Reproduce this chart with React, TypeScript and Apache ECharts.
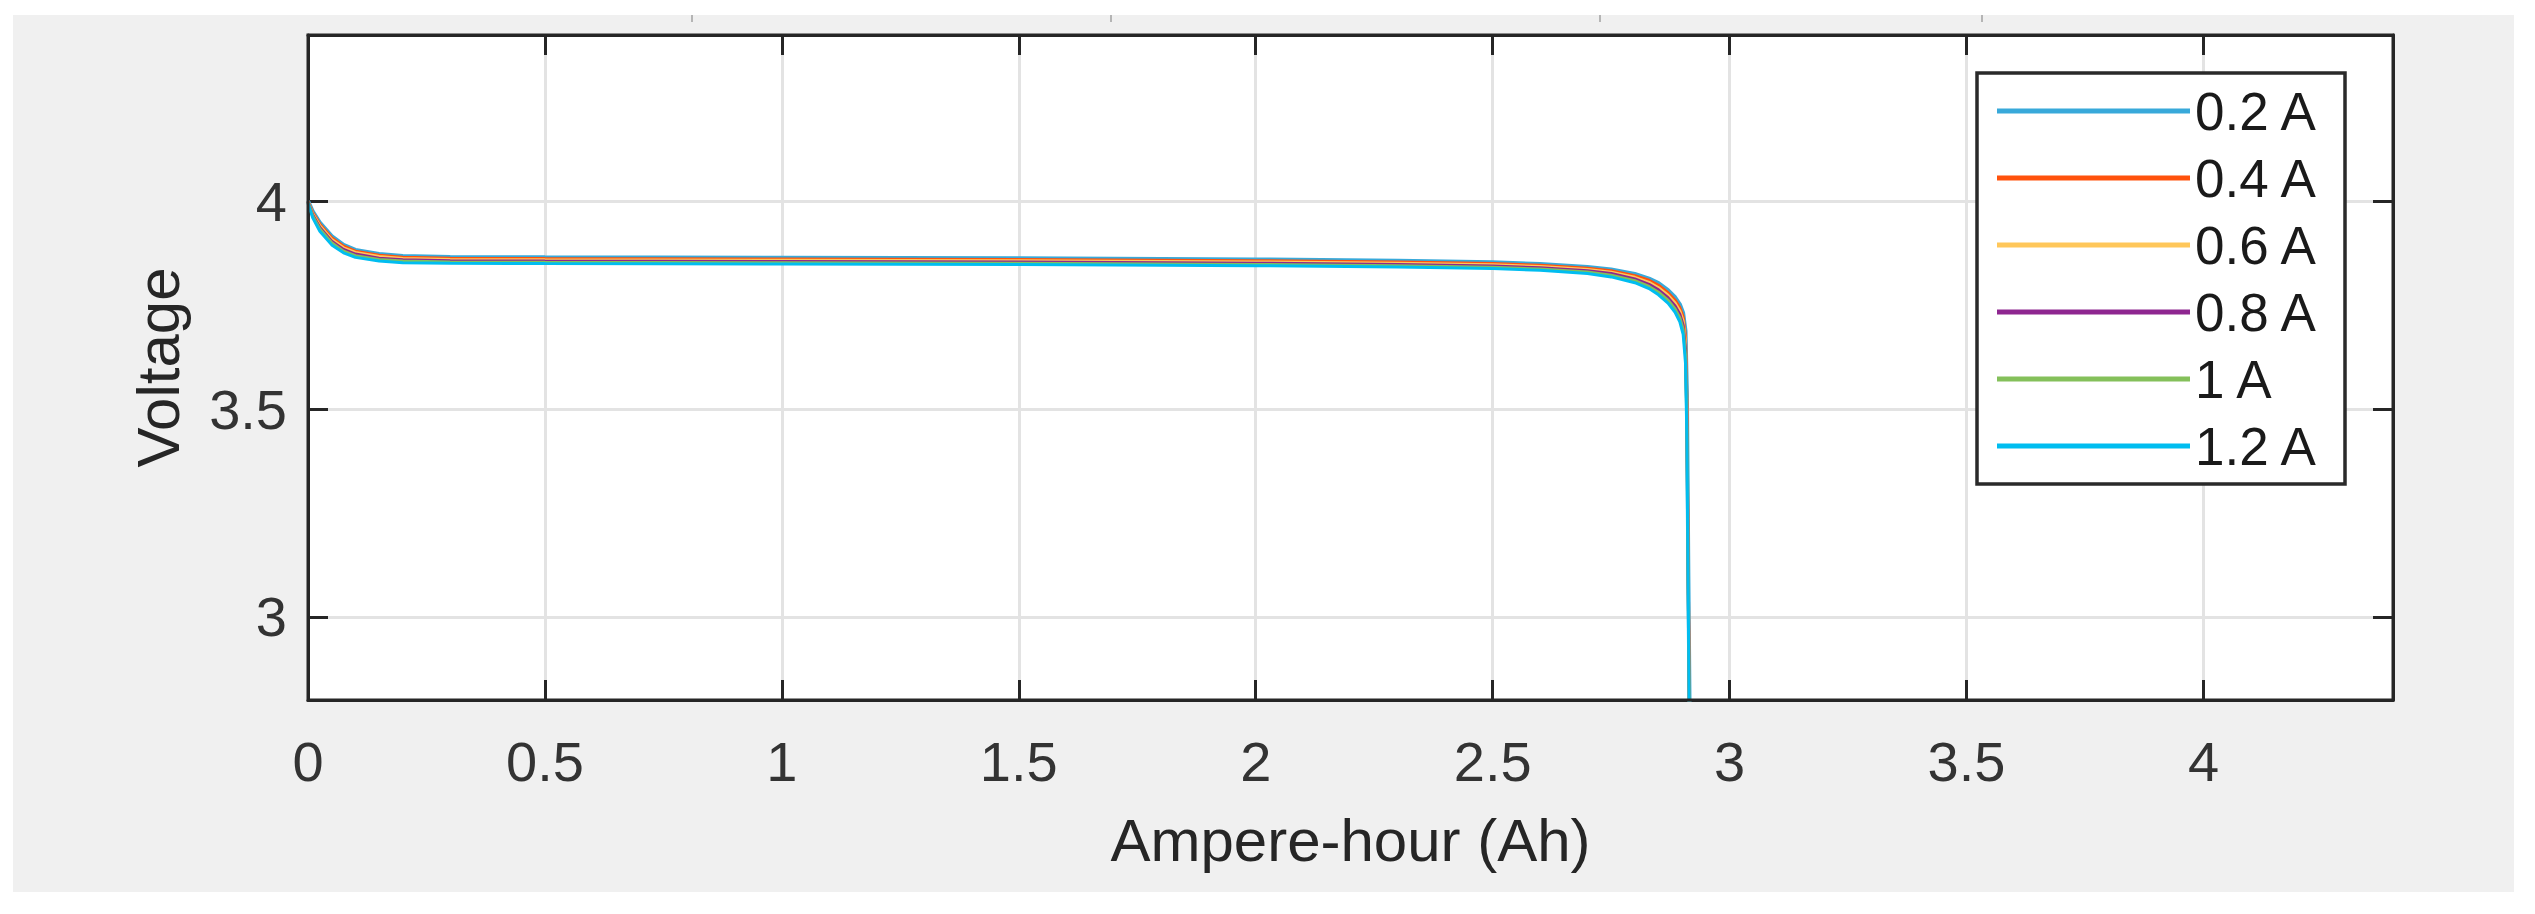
import React, { useEffect, useRef } from "react";
import * as echarts from "echarts";

// Capacity (Ah) sample positions shared by all curves
const AH = [0, 0.01, 0.025, 0.05, 0.075, 0.1, 0.15, 0.2, 0.3, 0.5, 1.0, 1.5, 2.0, 2.3, 2.5, 2.6, 2.7, 2.75, 2.8, 2.83, 2.85, 2.87, 2.885, 2.895, 2.902, 2.907, 2.91, 2.913, 2.917];

// Voltage readings for each discharge current
const V_02A = [4.001, 3.976, 3.949, 3.916, 3.895, 3.883, 3.873, 3.868, 3.866, 3.865, 3.864, 3.863, 3.86, 3.857, 3.853, 3.849, 3.842, 3.836, 3.825, 3.814, 3.803, 3.786, 3.769, 3.752, 3.731, 3.688, 3.53, 3.1, 2.6];
const V_04A = [4.0, 3.973, 3.945, 3.912, 3.892, 3.88, 3.87, 3.865, 3.863, 3.862, 3.861, 3.86, 3.857, 3.854, 3.85, 3.846, 3.839, 3.833, 3.821, 3.81, 3.798, 3.78, 3.762, 3.744, 3.722, 3.675, 3.51, 3.08, 2.58];
const V_06A = [3.999, 3.97, 3.941, 3.908, 3.888, 3.877, 3.867, 3.862, 3.86, 3.859, 3.858, 3.857, 3.854, 3.851, 3.847, 3.843, 3.836, 3.829, 3.817, 3.805, 3.792, 3.774, 3.755, 3.736, 3.712, 3.66, 3.49, 3.06, 2.56];
const V_08A = [3.998, 3.967, 3.937, 3.904, 3.884, 3.873, 3.863, 3.859, 3.857, 3.856, 3.855, 3.854, 3.851, 3.848, 3.844, 3.84, 3.833, 3.826, 3.813, 3.8, 3.787, 3.768, 3.748, 3.728, 3.702, 3.645, 3.47, 3.04, 2.54];
const V_10A = [3.997, 3.964, 3.933, 3.9, 3.88, 3.869, 3.86, 3.856, 3.854, 3.853, 3.852, 3.851, 3.848, 3.845, 3.841, 3.837, 3.83, 3.822, 3.809, 3.795, 3.781, 3.762, 3.741, 3.72, 3.692, 3.63, 3.45, 3.02, 2.52];
const V_12A = [3.995, 3.96, 3.928, 3.895, 3.876, 3.865, 3.856, 3.852, 3.851, 3.85, 3.849, 3.848, 3.845, 3.842, 3.838, 3.834, 3.826, 3.818, 3.804, 3.79, 3.775, 3.755, 3.733, 3.71, 3.68, 3.61, 3.42, 3.0, 2.5];

const SERIES_NAMES = ["0.2 A", "0.4 A", "0.6 A", "0.8 A", "1 A", "1.2 A"];
const SERIES_VALUES = [V_02A, V_04A, V_06A, V_08A, V_10A, V_12A];
const SERIES_COLORS = ["#38A9DA", "#FF520C", "#FFC75A", "#8E2690", "#84C05A", "#00BDF0"];
const SERIES_WIDTHS = [4, 3, 3, 3, 3, 3];

const X_TITLE = "Ampere-hour (Ah)";
const Y_TITLE = "Voltage";

const FONT = "'Liberation Sans', Arial, Helvetica, sans-serif";

export default function App() {
  const ref = useRef<HTMLDivElement>(null);

  useEffect(() => {
    if (!ref.current) return;
    const chart = echarts.init(ref.current, undefined, { renderer: "svg" });

    const gridL = 308, gridT = 35, gridR = 142, gridB = 214;
    const W = 2535, H = 914;

    const axisLine = { show: true, onZero: false, lineStyle: { color: "#262626", width: 3 } };
    const axisTick = { show: true, inside: true, length: 20, lineStyle: { color: "#262626", width: 3 } };
    const splitLine = { show: true, lineStyle: { color: "#E3E3E3", width: 3 } };

    const series = SERIES_NAMES.map((name, k) => ({
      name,
      type: "line",
      xAxisIndex: 0,
      yAxisIndex: 0,
      data: AH.map((x, i) => [x, SERIES_VALUES[k][i]]),
      symbol: "none",
      showSymbol: false,
      clip: true,
      lineStyle: { color: SERIES_COLORS[k], width: SERIES_WIDTHS[k] },
      itemStyle: { color: SERIES_COLORS[k] },
      emphasis: { disabled: true },
      z: 2,
    }));

    const artifactXs = [692, 1111, 1600, 1982];

    chart.setOption({
      animation: false,
      backgroundColor: "#ffffff",
      textStyle: { fontFamily: FONT },
      graphic: [
        { type: "rect", z: -10, silent: true, shape: { x: 13, y: 15, width: 2501, height: 877 }, style: { fill: "#F0F0F0" } },
        ...artifactXs.map((x) => ({
          type: "line", z: -5, silent: true,
          shape: { x1: x, y1: 15, x2: x, y2: 22 },
          style: { stroke: "#B5B5B5", lineWidth: 2 },
        })),
        {
          type: "rect", z: 3, silent: true,
          shape: { x: gridL, y: gridT, width: W - gridL - gridR, height: H - gridT - gridB },
          style: { fill: "none", stroke: "#262626", lineWidth: 3 },
        },
        {
          type: "rect", z: 3, silent: true,
          shape: { x: 1977, y: 73, width: 368, height: 411 },
          style: { fill: "#ffffff", stroke: "#2a2a2a", lineWidth: 3.5 },
        },
      ],
      grid: {
        left: gridL, top: gridT, right: gridR, bottom: gridB,
        show: true, backgroundColor: "#ffffff", borderWidth: 0,
      },
      legend: {
        show: true,
        orient: "vertical",
        left: 1997,
        top: 81,
        padding: 0,
        icon: "rect",
        itemWidth: 193,
        itemHeight: 5,
        itemGap: 7,
        itemTextGap: 22,
        selectedMode: false,
        data: SERIES_NAMES,
        textStyle: { fontSize: 53, lineHeight: 48, padding: [12, 0, 0, 0], color: "#1a1a1a", fontFamily: FONT },
        z: 5,
      },
      xAxis: [
        {
          type: "value", position: "bottom", min: 0, max: 4.4, interval: 0.5,
          axisLine, axisTick, splitLine,
          axisLabel: { show: true, fontSize: 56, color: "#333333", margin: 33, fontFamily: FONT, showMaxLabel: false },
          name: X_TITLE, nameLocation: "middle", nameGap: 110,
          nameTextStyle: { fontSize: 60, color: "#262626", fontFamily: FONT },
        },
        {
          type: "value", position: "top", min: 0, max: 4.4, interval: 0.5,
          axisLine, axisTick, splitLine: { show: false },
          axisLabel: { show: false },
        },
      ],
      yAxis: [
        {
          type: "value", position: "left", min: 2.8, max: 4.4, splitNumber: 3,
          axisLine, axisTick, splitLine,
          axisLabel: { show: true, fontSize: 56, color: "#333333", margin: 21, fontFamily: FONT, showMinLabel: false, showMaxLabel: false },
          name: Y_TITLE, nameLocation: "middle", nameGap: 120, nameRotate: 90,
          nameTextStyle: { fontSize: 60, color: "#262626", fontFamily: FONT },
        },
        {
          type: "value", position: "right", min: 2.8, max: 4.4, splitNumber: 3,
          axisLine, axisTick, splitLine: { show: false },
          axisLabel: { show: false },
        },
      ],
      series,
    });

    return () => {
      chart.dispose();
    };
  }, []);

  return (
    <div
      ref={ref}
      style={{ position: "absolute", left: 0, top: 0, width: 2535, height: 914 }}
    />
  );
}
